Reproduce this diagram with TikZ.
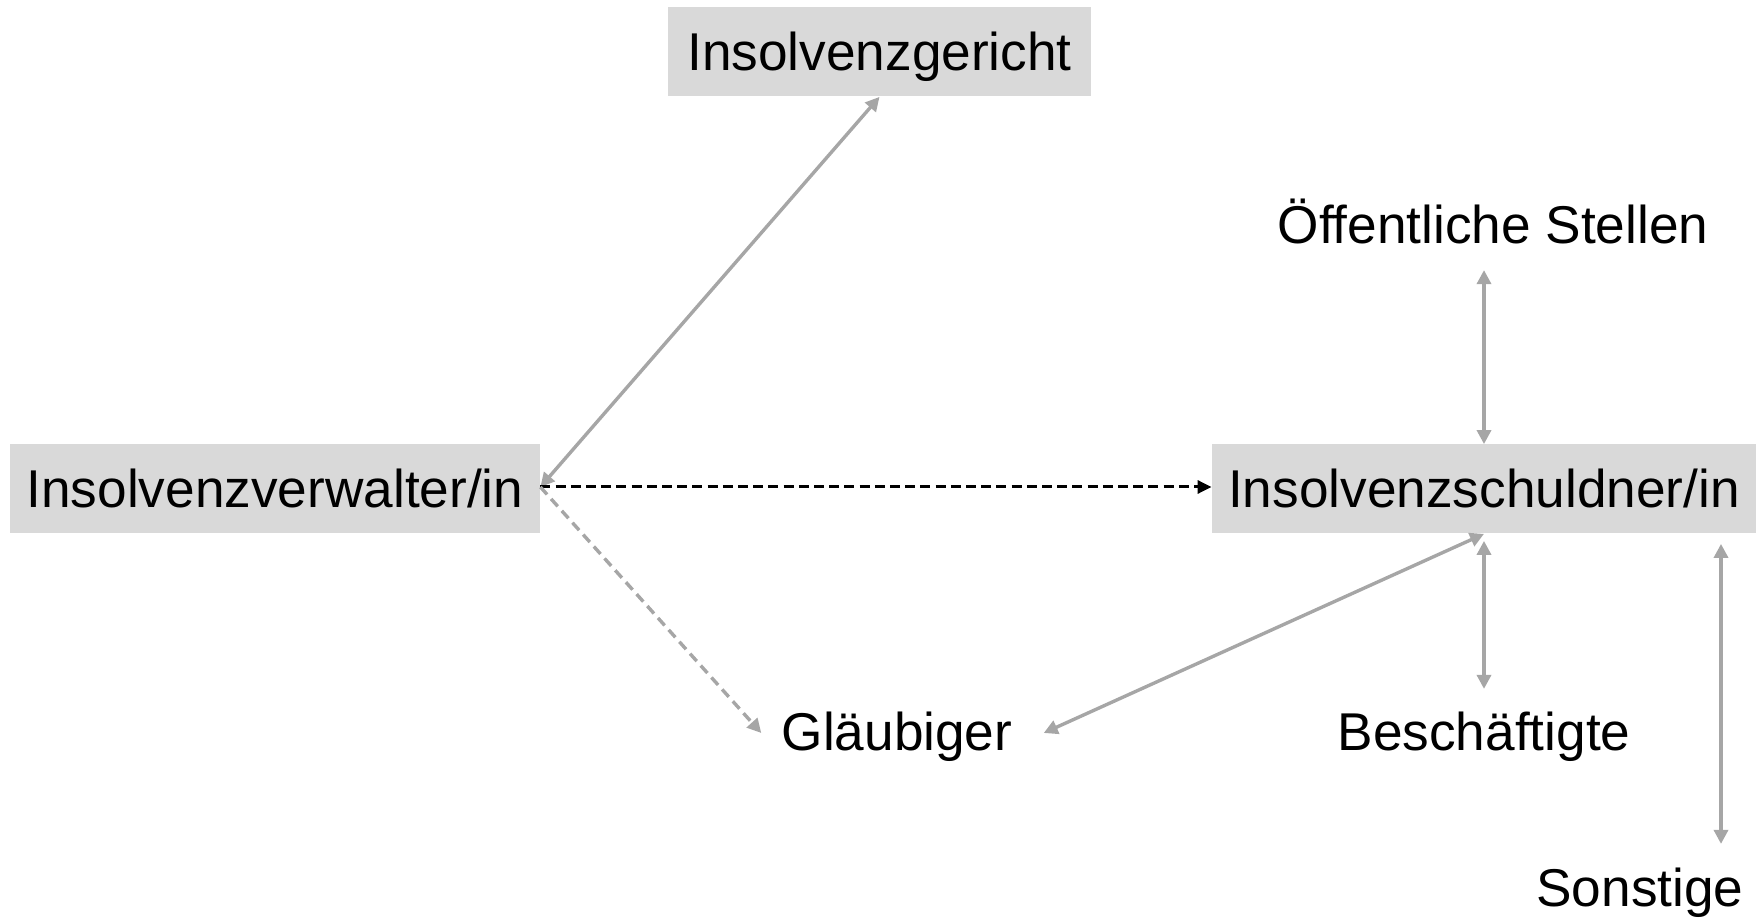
\documentclass[tikz,border=0pt]{standalone}
\usepackage{fontspec}
\setmainfont{Liberation Sans}
\usetikzlibrary{arrows.meta,calc}
\definecolor{boxgray}{HTML}{D9D9D9}
\definecolor{linegray}{HTML}{A6A6A6}
\tikzset{
  lbl/.style={font=\fontsize{26.6pt}{30pt}\selectfont, text height=19.2pt, text depth=0.4pt, inner sep=0pt},
  grbox/.style={lbl, fill=boxgray, minimum height=44.5pt},
  tip/.style={Triangle[length=7pt,width=7pt]},
  rel/.style={draw=linegray, line width=1.7pt, {Triangle[length=7pt,width=7pt]}-{Triangle[length=7pt,width=7pt]}},
  relto/.style={draw=linegray, line width=1.7pt, dash pattern=on 5pt off 3pt, -{Triangle[length=7pt,width=7pt]}},
  mainto/.style={draw=black, line width=1.5pt, dash pattern=on 5pt off 2.6pt, -{Triangle[length=7pt,width=6.5pt]}}
}
\begin{document}
\begin{tikzpicture}[x=0.5pt,y=-0.5pt]
\useasboundingbox (0,0) rectangle (1763,919);
\node[grbox, minimum width=211.5pt] (gericht) at (879.5,52) {Insolvenzgericht};
\node[grbox, minimum width=265pt] (verw) at (275,489) {Insolvenzverwalter/in};
\node[grbox, minimum width=272pt] (schuld) at (1484,489) {Insolvenzschuldner/in};
\node[lbl] (oeff) at (1493,225) {Öffentliche Stellen};
\node[lbl] (glaeub) at (897,732) {Gläubiger};
\node[lbl] (besch) at (1484,732) {Beschäftigte};
\node[lbl] (sonst) at (1640,888) {Sonstige};

\draw[rel] ($(verw.east)+(0,-2)$) -- (gericht.south);
\draw[mainto] ($(verw.east)+(0,-2)$) -- ($(schuld.west)+(0,-2)$);
\draw[relto] ($(verw.east)+(0,-2)$) -- ($(glaeub.west)+(-20,1)$);
\draw[rel] ($(glaeub.east)+(31,1)$) -- (schuld.south);
\draw[rel] ($(schuld.north)+(0,-174)$) -- (schuld.north);
\draw[rel] ($(schuld.south)+(0,7)$) -- ($(schuld.south)+(0,155)$);
\draw[rel] ($(schuld.south)+(237,10)$) -- ($(schuld.south)+(237,310)$);
\end{tikzpicture}
\end{document}
